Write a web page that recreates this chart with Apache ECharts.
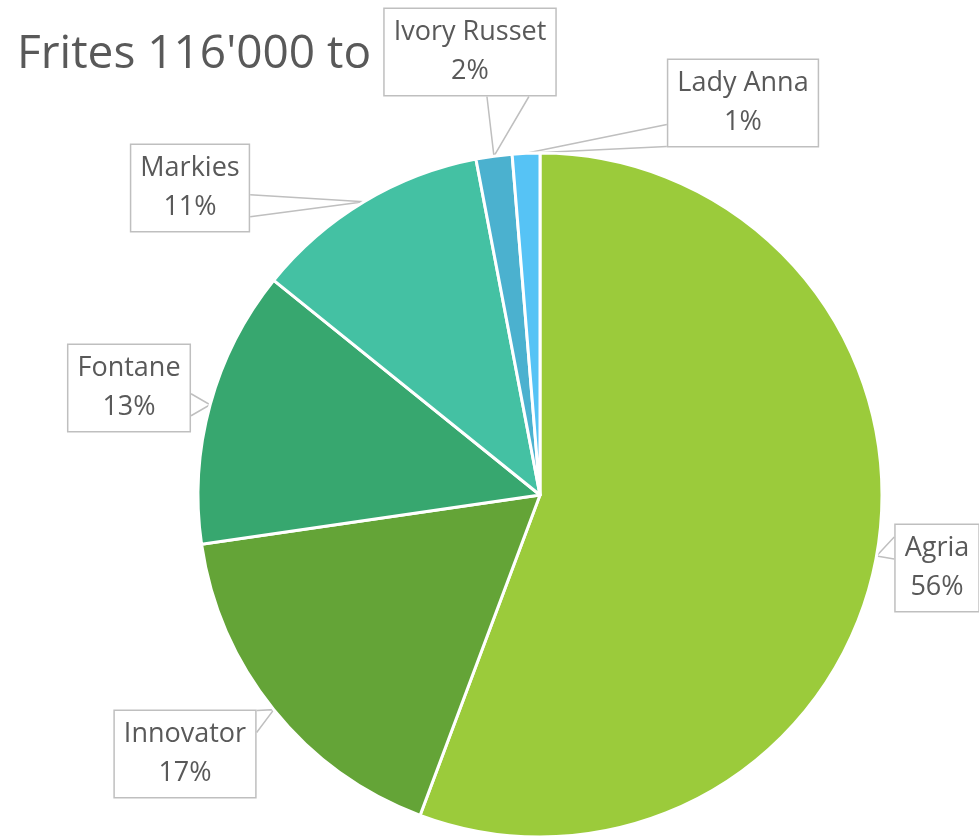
<!DOCTYPE html>
<html>
<head>
<meta charset="utf-8">
<script src="https://cdn.jsdelivr.net/npm/echarts@6/dist/echarts.min.js"></script>
<style>
  html, body { margin: 0; padding: 0; background: #fff; }
  #chart { width: 979px; height: 837px; }
</style>
</head>
<body>
<div id="chart"></div>
<script>
// varieties, clockwise from 12 o'clock
const varieties = ["Agria", "Innovator", "Fontane", "Markies", "Ivory Russet", "Lady Anna"];
const shares = [55.7, 17.0, 13.1, 11.2, 1.7, 1.3];
const sliceColors = ["#9bcb3b", "#64a437", "#37a76f", "#44c1a3", "#4bb1cf", "#56c3f5"];

/* callout box centres + side the pointer leaves from */
const calloutBoxes = [
  { cx: 937, cy: 568, side: "left", shift: -8 },
  { cx: 185, cy: 754, side: "right", shift: 0 },
  { cx: 129, cy: 388, side: "right", shift: 0 },
  { cx: 190, cy: 188, side: "right", shift: 4 },
  { cx: 470, cy: 52, side: "bottom", shift: 14 },
  { cx: 743, cy: 103, side: "left", shift: -12 },
];

const chart = echarts.init(document.getElementById("chart"), null, { renderer: "canvas" });

function callout(params) {
  const box = calloutBoxes[params.dataIndex];
  const w = params.labelRect.width;
  const h = params.labelRect.height;
  const left = box.cx - w / 2, right = box.cx + w / 2;
  const top = box.cy - h / 2, bottom = box.cy + h / 2;
  const tip = params.labelLinePoints ? params.labelLinePoints[0] : null;
  const out = { x: box.cx, y: box.cy, align: "center", verticalAlign: "middle" };
  if (!tip) return out;
  const clamp = (v, a, b) => Math.max(a, Math.min(b, v));
  let pts;
  if (box.side === "bottom") {
    const xc = clamp(tip[0] + box.shift, left + 22, right - 22);
    pts = [[xc - 21, bottom], tip, [xc + 21, bottom]];
  } else {
    const ex = box.side === "left" ? left : right;
    const yc = clamp(tip[1] + box.shift, top + 12, bottom - 12);
    pts = [[ex, yc - 11], tip, [ex, yc + 11]];
  }
  out.labelLinePoints = pts;
  return out;
}

chart.setOption({
  backgroundColor: "#fff",
  animation: false,
  title: {
    text: "Frites 116'000 to",
    left: 12,
    top: 27,
    textStyle: {
      fontFamily: "'Open Sans', sans-serif",
      fontSize: 46,
      fontWeight: "normal",
      color: "#595959",
    },
  },
  series: [
    {
      type: "pie",
      center: [540, 495],
      radius: 342,
      startAngle: 90,
      clockwise: true,
      avoidLabelOverlap: false,
      itemStyle: { borderColor: "#fff", borderWidth: 3 },
      data: varieties.map((name, i) => ({
        name,
        value: shares[i],
        itemStyle: { color: sliceColors[i] },
      })),
      label: {
        show: true,
        position: "outside",
        formatter: (p) => p.name + "\n" + Math.round(p.percent) + "%",
        fontFamily: "'Open Sans', sans-serif",
        fontSize: 27,
        lineHeight: 39,
        color: "#595959",
        align: "center",
        backgroundColor: "#fff",
        borderColor: "#bfbfbf",
        borderWidth: 1.5,
        padding: [4, 9, 4, 9],
      },
      labelLine: {
        show: true,
        length: 10,
        length2: 10,
        lineStyle: { color: "#bfbfbf", width: 1.5 },
      },
      labelLayout: callout,
      emphasis: { disabled: true },
    },
  ],
});
</script>
</body>
</html>
